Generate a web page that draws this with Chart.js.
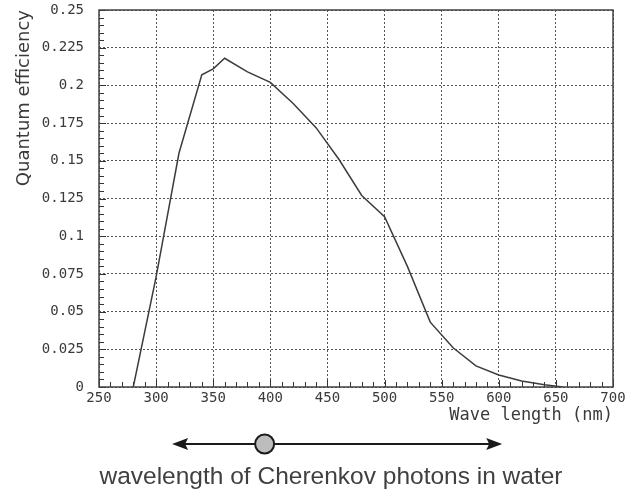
<!DOCTYPE html>
<html>
<head>
<meta charset="utf-8">
<script src="https://cdn.jsdelivr.net/npm/chart.js@4"></script>
<style>
  html, body { margin: 0; padding: 0; background: #fff; }
  #wrap { width: 625px; height: 489px; }
</style>
</head>
<body>
<div id="wrap"><canvas id="qe-chart" width="625" height="489"></canvas></div>
<script>
// wavelength (nm) and quantum efficiency
var wavelengths = [280, 300, 320, 340, 350, 360, 380, 400, 420, 440, 460, 480, 500, 520, 540, 560, 580, 600, 620, 640, 656];
var efficiency  = [0, 0.073, 0.155, 0.207, 0.211, 0.218, 0.209, 0.202, 0.188, 0.172, 0.151, 0.127, 0.113, 0.080, 0.043, 0.026, 0.014, 0.008, 0.004, 0.0015, 0];

// range of Cherenkov light shown by the arrow under the axis
var cherenkovRange = [314, 603];
var cherenkovMark = 395;
var caption = 'wavelength of Cherenkov photons in water';

var points = [];
for (var i = 0; i < wavelengths.length; i++) {
    points.push({x: wavelengths[i], y: efficiency[i]});
}

var tickFont = {family: 'DejaVu Sans Mono', size: 14};

// frame, minor ticks and the arrow + caption
var extras = {
    id: 'extras',
    afterDraw: function(chart) {
        var ctx = chart.ctx;
        var a = chart.chartArea;
        var xs = chart.scales.x, ys = chart.scales.y;
        ctx.save();
        ctx.strokeStyle = '#333';
        ctx.lineWidth = 1;
        ctx.setLineDash([]);
        ctx.beginPath();
        for (var v = 250; v <= 700; v += 10) {
            var px = Math.round(xs.getPixelForValue(v)) + 0.5;
            var len = (v % 50 === 0) ? 7 : 5;
            ctx.moveTo(px, a.bottom);
            ctx.lineTo(px, a.bottom - len);
        }
        for (var k = 0; k <= 50; k++) {
            var py = Math.round(ys.getPixelForValue(k * 0.005)) + 0.5;
            var l2 = (k % 5 === 0) ? 7 : 5;
            ctx.moveTo(a.left, py);
            ctx.lineTo(a.left + l2, py);
        }
        ctx.stroke();
        ctx.strokeStyle = '#444';
        ctx.lineWidth = 1.5;
        ctx.strokeRect(a.left, a.top, a.right - a.left, a.bottom - a.top);

        // arrow
        var y0 = 444;
        var x1 = xs.getPixelForValue(cherenkovRange[0]);
        var x2 = xs.getPixelForValue(cherenkovRange[1]);
        var xm = xs.getPixelForValue(cherenkovMark);
        ctx.strokeStyle = '#1a1a1a';
        ctx.fillStyle = '#1a1a1a';
        ctx.lineWidth = 2;
        ctx.beginPath();
        ctx.moveTo(x1 + 8, y0);
        ctx.lineTo(x2 - 8, y0);
        ctx.stroke();
        ctx.beginPath();
        ctx.moveTo(x1, y0);
        ctx.lineTo(x1 + 16, y0 - 6);
        ctx.lineTo(x1 + 13, y0);
        ctx.lineTo(x1 + 16, y0 + 6);
        ctx.closePath();
        ctx.fill();
        ctx.beginPath();
        ctx.moveTo(x2, y0);
        ctx.lineTo(x2 - 16, y0 - 6);
        ctx.lineTo(x2 - 13, y0);
        ctx.lineTo(x2 - 16, y0 + 6);
        ctx.closePath();
        ctx.fill();
        ctx.beginPath();
        ctx.arc(xm, y0, 9.5, 0, Math.PI * 2);
        ctx.fillStyle = '#bdbdbd';
        ctx.fill();
        ctx.lineWidth = 2;
        ctx.stroke();

        ctx.fillStyle = '#404040';
        ctx.font = '24.5px "Liberation Sans"';
        ctx.textAlign = 'center';
        ctx.textBaseline = 'middle';
        ctx.fillText(caption, 331, 477);
        ctx.restore();
    }
};

new Chart(document.getElementById('qe-chart'), {
    type: 'line',
    data: {
        datasets: [{
            data: points,
            borderColor: '#3c3c3c',
            borderWidth: 1.5,
            pointRadius: 0,
            tension: 0,
            fill: false
        }]
    },
    options: {
        responsive: false,
        animation: false,
        layout: { padding: { top: 10, right: 12, left: 0, bottom: 0 } },
        plugins: {
            legend: { display: false },
            tooltip: { enabled: false }
        },
        scales: {
            x: {
                type: 'linear',
                min: 250,
                max: 700,
                afterFit: function(s) { s.height = 102; s.paddingLeft = 0; s.paddingRight = 0; },
                ticks: { stepSize: 50, color: '#3a3a3a', font: tickFont, padding: 3, maxRotation: 0, autoSkip: false },
                grid: { color: '#555', lineWidth: 1, drawTicks: false },
                border: { display: false, dash: [2, 2] },
                title: {
                    display: true,
                    text: 'Wave length (nm)',
                    align: 'end',
                    color: '#3a3a3a',
                    font: { family: 'DejaVu Sans Mono', size: 17 },
                    padding: { top: 0, bottom: 63 }
                }
            },
            y: {
                min: 0,
                max: 0.25,
                afterFit: function(s) { s.width = 99; s.paddingTop = 0; s.paddingBottom = 0; },
                ticks: {
                    stepSize: 0.025,
                    color: '#3a3a3a',
                    font: tickFont,
                    padding: 15,
                    callback: function(v) { return String(+v.toFixed(3)); }
                },
                grid: { color: '#555', lineWidth: 1, drawTicks: false },
                border: { display: false, dash: [2, 2] },
                title: {
                    display: true,
                    text: 'Quantum efficiency',
                    align: 'end',
                    color: '#3a3a3a',
                    font: { family: 'DejaVu Sans', size: 18 },
                    padding: { top: 14, bottom: 0 }
                }
            }
        }
    },
    plugins: [extras]
});
</script>
</body>
</html>
